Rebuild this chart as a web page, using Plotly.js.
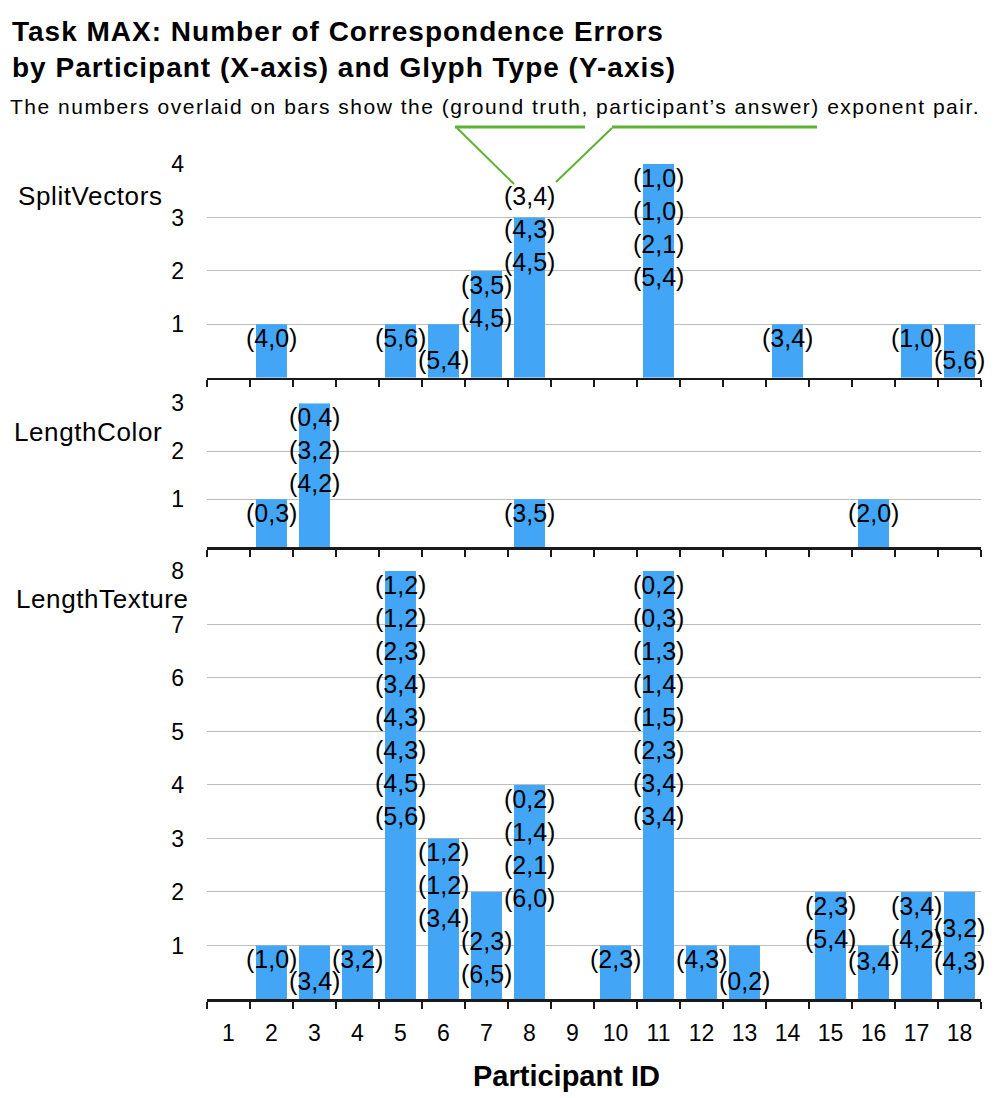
<!DOCTYPE html>
<html>
<head>
<meta charset="utf-8">
<script src="https://cdn.plot.ly/plotly-3.0.1.min.js"></script>
<style>
  body { margin: 0; background: #ffffff; }
  #chart { width: 998px; height: 1098px; }
</style>
</head>
<body>
<div id="chart"></div>
<script>
// participants on the x axis
var participants = ['1', '2', '3', '4', '5', '6', '7', '8', '9',
  '10', '11', '12', '13', '14', '15', '16', '17', '18'];

// error counts per glyph type
var splitVectorsErrors = [0, 1, 0, 0, 1, 1, 2, 3, 0, 0, 4, 0, 0, 1, 0, 0, 1, 1];
var lengthColorErrors = [0, 1, 3, 0, 0, 0, 0, 1, 0, 0, 0, 0, 0, 0, 0, 1, 0, 0];
var lengthTextureErrors = [0, 1, 1, 1, 8, 3, 2, 4, 0, 1, 8, 1, 1, 0, 2, 1, 2, 2];

// (ground truth, participant's answer) pairs shown on each bar
var splitVectorsPairs = [[], ['(4,0)'], [], [], ['(5,6)'], ['(5,4)'],
  ['(3,5)', '(4,5)'], ['(3,4)', '(4,3)', '(4,5)'], [], [],
  ['(1,0)', '(1,0)', '(2,1)', '(5,4)'], [], [], ['(3,4)'], [], [],
  ['(1,0)'], ['(5,6)']];
var lengthColorPairs = [[], ['(0,3)'], ['(0,4)', '(3,2)', '(4,2)'], [], [], [], [],
  ['(3,5)'], [], [], [], [], [], [], [], ['(2,0)'], [], []];
var lengthTexturePairs = [[], ['(1,0)'], ['(3,4)'], ['(3,2)'],
  ['(1,2)', '(1,2)', '(2,3)', '(3,4)', '(4,3)', '(4,3)', '(4,5)', '(5,6)'],
  ['(1,2)', '(1,2)', '(3,4)'], ['(2,3)', '(6,5)'],
  ['(0,2)', '(1,4)', '(2,1)', '(6,0)'], [], ['(2,3)'],
  ['(0,2)', '(0,3)', '(1,3)', '(1,4)', '(1,5)', '(2,3)', '(3,4)', '(3,4)'],
  ['(4,3)'], ['(0,2)'], [], ['(2,3)', '(5,4)'], ['(3,4)'],
  ['(3,4)', '(4,2)'], ['(3,2)', '(4,3)']];

var glyphTypes = ['SplitVectors', 'LengthColor', 'LengthTexture'];
var yMax = [4, 3, 8];

// ---- look ----
var FONT = 'Liberation Sans, Arial, Helvetica, sans-serif';
var BLUE = '#42a5f5';
var GREEN = '#5db135';
var W = 998, H = 1098;
var M = {l: 207, r: 17, t: 164, b: 99};
var plotW = W - M.l - M.r, plotH = H - M.t - M.b;
var domains = [[0.744, 1], [0.541, 0.7134], [0, 0.5126]];
var nameLeft = [16, 12, 14];     // left edge of the glyph name, px
var nameMid = [196, 432, 599];   // vertical centre of the glyph name, px

var LABEL_DROP = 14, LABEL_STEP = 33, LABEL_GAP = 22, MIN_H = 10, MAX_NUDGE = 40;

function px(x) { return (x - M.l) / plotW; }
function py(y) { return (H - M.b - y) / plotH; }
function spaced(txt, ls) { return '<span style="letter-spacing:' + ls + 'px">' + txt + '</span>'; }

// how badly a stack of label heights collides with the neighbour's
function overlap(hs, prev) {
  var s = 0;
  hs.forEach(function (h) {
    prev.forEach(function (p) { s += Math.max(0, LABEL_GAP - Math.abs(h - p)); });
  });
  var low = hs[hs.length - 1];
  if (low < MIN_H) s += MIN_H - low;
  return s;
}

// stack labels from the bar top downwards, nudging so neighbours don't collide
function stackHeights(counts, pairs, ppu) {
  var result = [], prev = [];
  counts.forEach(function (v, i) {
    var n = pairs[i].length;
    if (!n) { result.push([]); prev = []; return; }
    var base = [];
    for (var k = 0; k < n; k++) base.push(v * ppu - LABEL_DROP - k * LABEL_STEP);
    var best = null, bestCost = Infinity;
    for (var s = -MAX_NUDGE; s <= MAX_NUDGE; s++) {
      var hs = base.map(function (h) { return h + s; });
      var cost = overlap(hs, prev) * 10 + Math.abs(s) * (s > 0 ? 3 : 1);
      if (cost < bestCost) { bestCost = cost; best = hs; }
    }
    result.push(best);
    prev = best;
  });
  return result;
}

var counts = [splitVectorsErrors, lengthColorErrors, lengthTextureErrors];
var pairs = [splitVectorsPairs, lengthColorPairs, lengthTexturePairs];

var data = [];
var annotations = [];
var layout = {
  width: W, height: H,
  margin: M,
  paper_bgcolor: '#ffffff',
  plot_bgcolor: '#ffffff',
  showlegend: false,
  bargap: 0.28,
  font: {family: FONT, color: '#000000'},
  shapes: []
};

glyphTypes.forEach(function (name, p) {
  var ax = p === 0 ? '' : String(p + 1);
  var ppu = (domains[p][1] - domains[p][0]) * plotH / yMax[p];

  data.push({
    type: 'bar',
    x: participants,
    y: counts[p],
    xaxis: 'x' + ax,
    yaxis: 'y' + ax,
    marker: {color: BLUE},
    hoverinfo: 'skip'
  });

  var ticks = [];
  for (var t = 1; t <= yMax[p]; t++) ticks.push(t);

  layout['xaxis' + ax] = {
    type: 'category',
    categoryorder: 'array',
    categoryarray: participants,
    range: [-0.5, participants.length - 0.5],
    anchor: 'y' + ax,
    domain: [0, 1],
    showline: true, linecolor: '#1a1a1a', linewidth: 2.5,
    ticks: 'outside', tickson: 'boundaries', ticklen: 7, tickwidth: 2, tickcolor: '#1a1a1a',
    showgrid: false, zeroline: false,
    showticklabels: p === 2,
    ticklabelstandoff: 12,
    tickfont: {family: FONT, size: 23, color: '#000000'},
    fixedrange: true
  };
  layout['yaxis' + ax] = {
    domain: domains[p],
    range: [0, yMax[p]],
    anchor: 'x' + ax,
    tickmode: 'array', tickvals: ticks,
    showgrid: true, gridcolor: '#bdbdbd', gridwidth: 1,
    zeroline: false, showline: false, ticks: '',
    ticklabelstandoff: 22,
    tickfont: {family: FONT, size: 23, color: '#000000'},
    fixedrange: true
  };

  // glyph type name, written horizontally left of the panel
  annotations.push({
    xref: 'paper', yref: 'paper',
    x: px(nameLeft[p]), y: py(nameMid[p]),
    xanchor: 'left', yanchor: 'middle',
    text: spaced(name, 0.6), showarrow: false,
    font: {family: FONT, size: 26, color: '#000000'}
  });

  // exponent pairs stacked on each bar (x given as category index)
  var heights = stackHeights(counts[p], pairs[p], ppu);
  pairs[p].forEach(function (list, i) {
    list.forEach(function (txt, k) {
      annotations.push({
        xref: 'x' + ax, yref: 'y' + ax,
        x: i, y: counts[p][i],
        yshift: heights[i][k] - counts[p][i] * ppu,
        xanchor: 'center', yanchor: 'middle',
        text: txt, showarrow: false,
        font: {family: FONT, size: 25, color: '#000000'}
      });
    });
  });
});

// title, subtitle and x axis title
annotations.push({
  xref: 'paper', yref: 'paper',
  x: px(10), y: py(14), xanchor: 'left', yanchor: 'top', align: 'left',
  text: '<b>' + spaced('Task MAX: Number of Correspondence Errors', 1) + '</b><br><b>' +
    spaced('by Participant (X-axis) and Glyph Type (Y-axis)', 1) + '</b>',
  showarrow: false,
  font: {family: FONT, size: 28, color: '#000000'}
});
annotations.push({
  xref: 'paper', yref: 'paper',
  x: px(8), y: py(107), xanchor: 'left', yanchor: 'middle',
  text: spaced('The numbers overlaid on bars show the (ground truth, participant\u2019s answer) exponent pair.', 1.5),
  showarrow: false,
  font: {family: FONT, size: 21, color: '#000000'}
});
annotations.push({
  xref: 'paper', yref: 'paper',
  x: px(566), y: py(1076), xanchor: 'center', yanchor: 'middle',
  text: '<b>Participant ID</b>', showarrow: false,
  font: {family: FONT, size: 29, color: '#000000'}
});

// green guide lines from the subtitle to the example label
var guides = [
  [455, 127, 585, 127, 3], [612, 127, 817, 127, 3],
  [457, 128, 514, 184, 2], [612, 128, 556, 182, 2]
];
guides.forEach(function (g) {
  layout.shapes.push({
    type: 'line', xref: 'paper', yref: 'paper',
    x0: px(g[0]), y0: py(g[1]), x1: px(g[2]), y1: py(g[3]),
    line: {color: GREEN, width: g[4]}
  });
});

layout.annotations = annotations;

Plotly.newPlot('chart', data, layout, {displayModeBar: false, staticPlot: true});
</script>
</body>
</html>
